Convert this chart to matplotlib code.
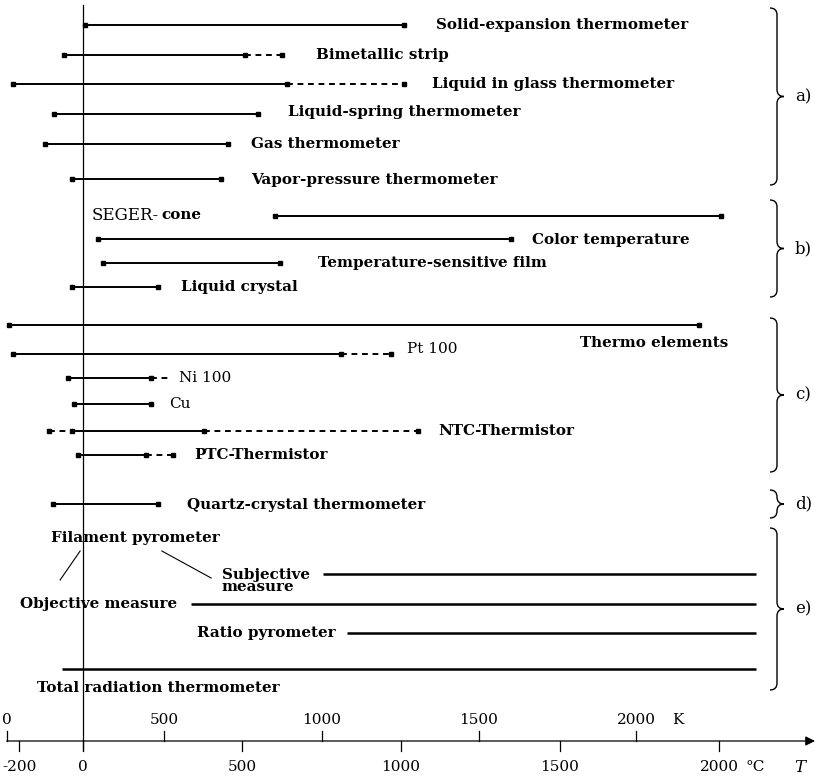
import numpy as np
import matplotlib
matplotlib.use("Agg")
import matplotlib.pyplot as plt
from matplotlib.path import Path
from matplotlib.patches import PathPatch

plt.rcParams['font.family'] = ['DejaVu Serif']

# measuring ranges in degC: (low, high) of the solid part, dashed extensions
names_a = ["Solid-expansion thermometer", "Bimetallic strip", "Liquid in glass thermometer",
           "Liquid-spring thermometer", "Gas thermometer", "Vapor-pressure thermometer"]
lo_a = [5, -60, -220, -90, -120, -35]
hi_a = [1010, 510, 640, 550, 455, 435]
ext_a = [None, 625, 1010, None, None, None]

names_b = ["cone", "Color temperature", "Temperature-sensitive film", "Liquid crystal"]
lo_b = [605, 47, 63, -35]
hi_b = [2005, 1345, 620, 235]

names_c = ["Thermo elements", "Pt 100", "Ni 100", "Cu", "NTC-Thermistor", "PTC-Thermistor"]
lo_c = [-233, -220, -47, -28, -35, -16]
hi_c = [1937, 811, 214, 214, 381, 198]
ext_c = [None, 969, 270, None, 1053, 283]
ext_lo_c = [None, None, None, None, -107, None]

names_d = ["Quartz-crystal thermometer"]
lo_d = [-94]
hi_d = [236]

names_e = ["Subjective\nmeasure", "Objective measure", "Ratio pyrometer", "Total radiation thermometer"]
lo_e = [755, 340, 830, -66]
hi_e = [2116, 2116, 2116, 2116]

celsius_ticks = [-200, 0, 500, 1000, 1500, 2000]
kelvin_ticks = [0, 500, 1000, 1500, 2000]

# layout: vertical positions (pixel rows, top = 0) and label x positions (degC)
PX = 0.318          # pixels per degC
X0 = 83             # pixel column of 0 degC
y_a = [25, 55, 84, 114, 144, 179]
y_b = [216, 239, 263, 287]
y_c = [325, 354, 378, 404, 431, 455]
y_d = [504]
y_e = [574, 604, 633, 669]
lab_a = [(1110, 25), (733, 55), (1097, 84), (645, 112), (528, 144), (528, 180)]
lab_b = [(None, 215), (1412, 240), (739, 263), (308, 287)]
lab_c = [(1563, 343), (1019, 349), (302, 378), (270, 404), (1116, 431), (349, 455)]
lab_d = [(327, 505)]
lab_e = [(437, 581), (-198, 604), (358, 633), (-145, 688)]

fig = plt.figure(figsize=(8.15, 7.8), dpi=100)
ax = fig.add_axes([0, 0, 1, 1])
ax.set_xlim(-X0 / PX, (815 - X0) / PX)
ax.set_ylim(780, 0)
ax.axis('off')

LW = 1.4
MS = 2.6
bold = dict(fontsize=10.9, fontweight='bold', va='center', ha='left')
plain = dict(fontsize=11, va='center', ha='left')
tick = dict(fontsize=11, ha='center', va='center')


def bar(y, lo, hi, ext=None, ext_lo=None, end_marker=True):
    ax.plot([lo, hi], [y, y], color='k', lw=LW, solid_capstyle='butt',
            marker='s', ms=MS, markevery=[0, 1], zorder=3)
    if ext is not None:
        ax.plot([hi, ext], [y, y], color='k', lw=LW, dashes=(3, 2.4), dash_capstyle='butt',
                zorder=3)
        if end_marker:
            ax.plot([ext], [y], 's', color='k', ms=MS, zorder=3)
    if ext_lo is not None:
        ax.plot([ext_lo, lo], [y, y], color='k', lw=LW, dashes=(3, 2.4), zorder=3)
        ax.plot([ext_lo], [y], 's', color='k', ms=MS, zorder=3)


def brace(y0, y1, label):
    xv = (777 - X0) / PX
    w = 7 / PX
    r = 7
    ym = (y0 + y1) / 2
    verts = [(xv - w, y0), (xv, y0), (xv, y0 + r),
             (xv, ym - r),
             (xv, ym), (xv + w, ym), (xv + w, ym),
             (xv, ym), (xv, ym + r),
             (xv, y1 - r),
             (xv, y1), (xv - w, y1)]
    codes = [Path.MOVETO, Path.CURVE3, Path.CURVE3,
             Path.LINETO,
             Path.CURVE3, Path.CURVE3, Path.MOVETO,
             Path.CURVE3, Path.CURVE3,
             Path.LINETO,
             Path.CURVE3, Path.CURVE3]
    ax.add_patch(PathPatch(Path(verts, codes), fill=False, lw=1.0, color='k'))
    ax.text((795 - X0) / PX, ym, label, fontsize=12, va='center', ha='left')


# a) mechanical thermometers
for i, name in enumerate(names_a):
    bar(y_a[i], lo_a[i], hi_a[i], ext_a[i])
    ax.text(lab_a[i][0], lab_a[i][1], name, **bold)

# b) colour change / optical
for i, name in enumerate(names_b):
    bar(y_b[i], lo_b[i], hi_b[i])
    if i == 0:
        t = ax.text(28, lab_b[i][1], "SEGER-", fontsize=12, va='center', ha='left')
        ax.annotate(name, xycoords=t, xy=(1, 0.5), xytext=(2, 0), textcoords='offset points',
                    va='center', ha='left', fontsize=10.9, fontweight='bold')
    else:
        ax.text(lab_b[i][0], lab_b[i][1], name, **bold)

# c) electrical
for i, name in enumerate(names_c):
    bar(y_c[i], lo_c[i], hi_c[i], ext_c[i], ext_lo_c[i], end_marker=(i != 2))
    style = plain if name in ("Pt 100", "Ni 100", "Cu") else bold
    ax.text(lab_c[i][0], lab_c[i][1], name, **style)

# d) quartz
bar(y_d[0], lo_d[0], hi_d[0])
ax.text(lab_d[0][0], lab_d[0][1], names_d[0], **bold)

# e) radiation pyrometers
for i, name in enumerate(names_e):
    ax.plot([lo_e[i], hi_e[i]], [y_e[i], y_e[i]], color='k', lw=1.8, solid_capstyle='butt')
    ax.text(lab_e[i][0], lab_e[i][1], name, linespacing=0.85, **bold)
ax.text(-101, 538, "Filament pyrometer", **bold)
ax.plot([-9, -72], [551, 580], color='k', lw=0.8)
ax.plot([248, 403], [551, 578], color='k', lw=0.8)

brace(8, 185, "a)")
brace(200, 297, "b)")
brace(318, 472, "c)")
brace(490, 518, "d)")
brace(528, 690, "e)")

# temperature axis
YA = 741
ax.plot([0, 0], [5, 750], color='k', lw=0.9)
ax.annotate('', xy=((815 - X0) / PX, YA), xytext=(kelvin_ticks[0] * 0.99 - 240, YA),
            arrowprops=dict(arrowstyle='-|>', lw=0.9, color='k', mutation_scale=14,
                            shrinkA=0, shrinkB=0))
for k in kelvin_ticks:
    xk = k * 0.99 - 240
    ax.plot([xk, xk], [YA, YA - 10], color='k', lw=0.9)
    ax.text(xk, 720, str(k), **tick)
ax.text((678 - X0) / PX, 720, "K", **tick)
for c in celsius_ticks:
    ax.plot([c, c], [YA, YA + 10], color='k', lw=0.9)
    ax.text(c, 767, str(c), **tick)
ax.text((755 - X0) / PX, 767, "°C", **tick)
ax.text((800 - X0) / PX, 767, "T", fontsize=12, style='italic', ha='center', va='center')

fig.savefig("out.png", dpi=100)
